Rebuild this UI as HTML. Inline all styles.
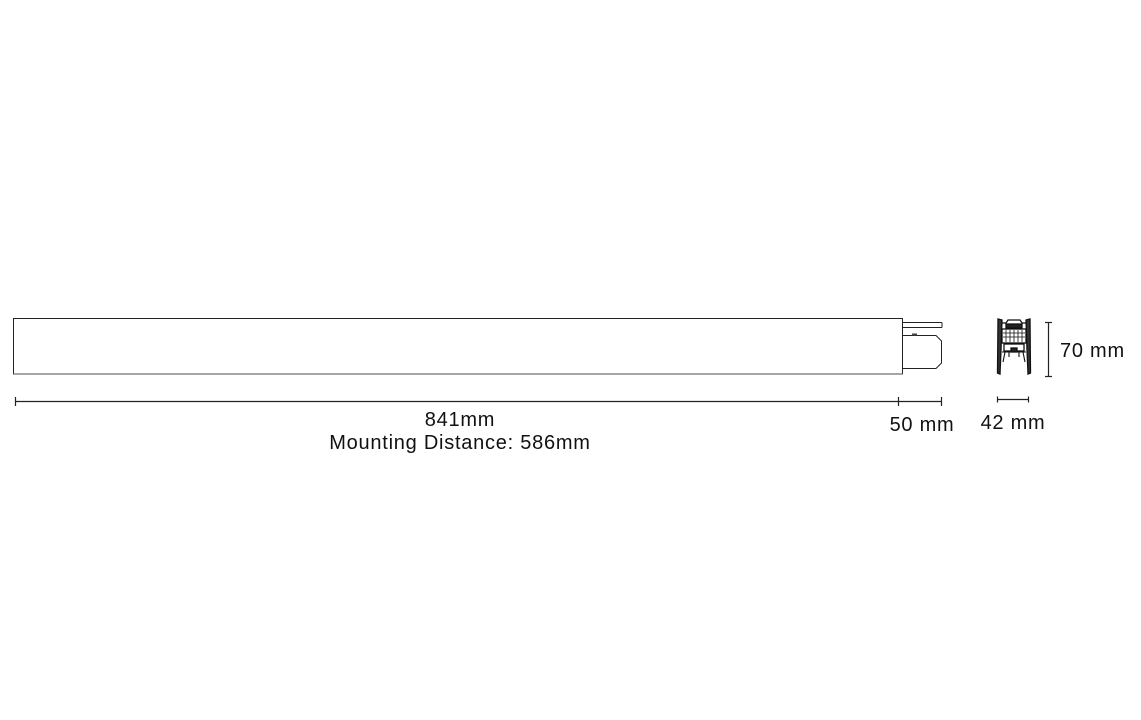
<!DOCTYPE html>
<html><head><meta charset="utf-8"><style>
html,body{margin:0;padding:0;background:#fff;}
svg{display:block}
text{font-family:"Liberation Sans",sans-serif;font-size:20px;letter-spacing:0.75px;fill:#111}
</style></head><body>
<svg width="1141" height="720" viewBox="0 0 1141 720" xmlns="http://www.w3.org/2000/svg">
<rect x="13.5" y="318.5" width="889" height="55.5" fill="#fff" stroke="#222" stroke-width="1"/>
<line x1="13.5" y1="374" x2="902.5" y2="374" stroke="#888" stroke-width="1.5"/>
<line x1="902" y1="322.5" x2="942" y2="322.5" stroke="#222" stroke-width="1"/>
<line x1="902" y1="327.5" x2="942" y2="327.5" stroke="#222" stroke-width="1"/>
<line x1="942" y1="322.5" x2="942" y2="327.5" stroke="#222" stroke-width="1"/>
<path d="M903 335.5 H936 L941.5 341 V363 L936 368.5 H903" fill="none" stroke="#222" stroke-width="1"/>
<rect x="912" y="333.5" width="5" height="2" fill="#444"/>
<line x1="15" y1="401.5" x2="941" y2="401.5" stroke="#222" stroke-width="1.2"/>
<line x1="15.5" y1="397" x2="15.5" y2="406" stroke="#222" stroke-width="1.2"/>
<line x1="898.5" y1="397" x2="898.5" y2="406" stroke="#222" stroke-width="1.2"/>
<line x1="941.5" y1="397" x2="941.5" y2="406" stroke="#222" stroke-width="1.2"/>
<g stroke="#111" fill="none" stroke-width="1.3">
<path d="M998 319 L997.5 373 L1000 374 L1001 350 L1002 320 Z" fill="#333"/>
<path d="M1030 319 L1030.5 373 L1028 374 L1027 350 L1026 320 Z" fill="#333"/>
<path d="M1002 323 L1006 323 L1008 320 L1020 320 L1022 323 L1026 323"/>
<rect x="1006" y="324" width="16" height="4" fill="#222"/>
<rect x="1002" y="329" width="24" height="14" fill="#fff"/>
<path d="M1003 333 H1025 M1003 337 H1025 M1006 330 V342 M1010 330 V342 M1014 330 V342 M1018 330 V342 M1022 330 V342" stroke-width="0.8"/>
<rect x="1004" y="344" width="20" height="7" fill="#fff"/>
<path d="M1002 352 H1026 M1005 352 L1003 362 M1023 352 L1025 362 M1009 352 V357 M1019 352 V357" stroke-width="1.1"/>
<rect x="1011" y="348" width="6" height="4" fill="#222"/>
</g>
<line x1="1048.5" y1="322" x2="1048.5" y2="377" stroke="#222" stroke-width="1.2"/>
<line x1="1045" y1="322.5" x2="1052" y2="322.5" stroke="#222" stroke-width="1.2"/>
<line x1="1045" y1="376.5" x2="1052" y2="376.5" stroke="#222" stroke-width="1.2"/>
<line x1="997" y1="399.5" x2="1029" y2="399.5" stroke="#222" stroke-width="1.2"/>
<line x1="997.5" y1="396.5" x2="997.5" y2="402.5" stroke="#222" stroke-width="1.2"/>
<line x1="1028.5" y1="396.5" x2="1028.5" y2="402.5" stroke="#222" stroke-width="1.2"/>
<text x="460" y="426" text-anchor="middle">841mm</text>
<text x="460" y="449" text-anchor="middle">Mounting Distance: 586mm</text>
<text x="922" y="431" text-anchor="middle">50 mm</text>
<text x="1013" y="429" text-anchor="middle">42 mm</text>
<text x="1060" y="357">70 mm</text>
</svg>
</body></html>
